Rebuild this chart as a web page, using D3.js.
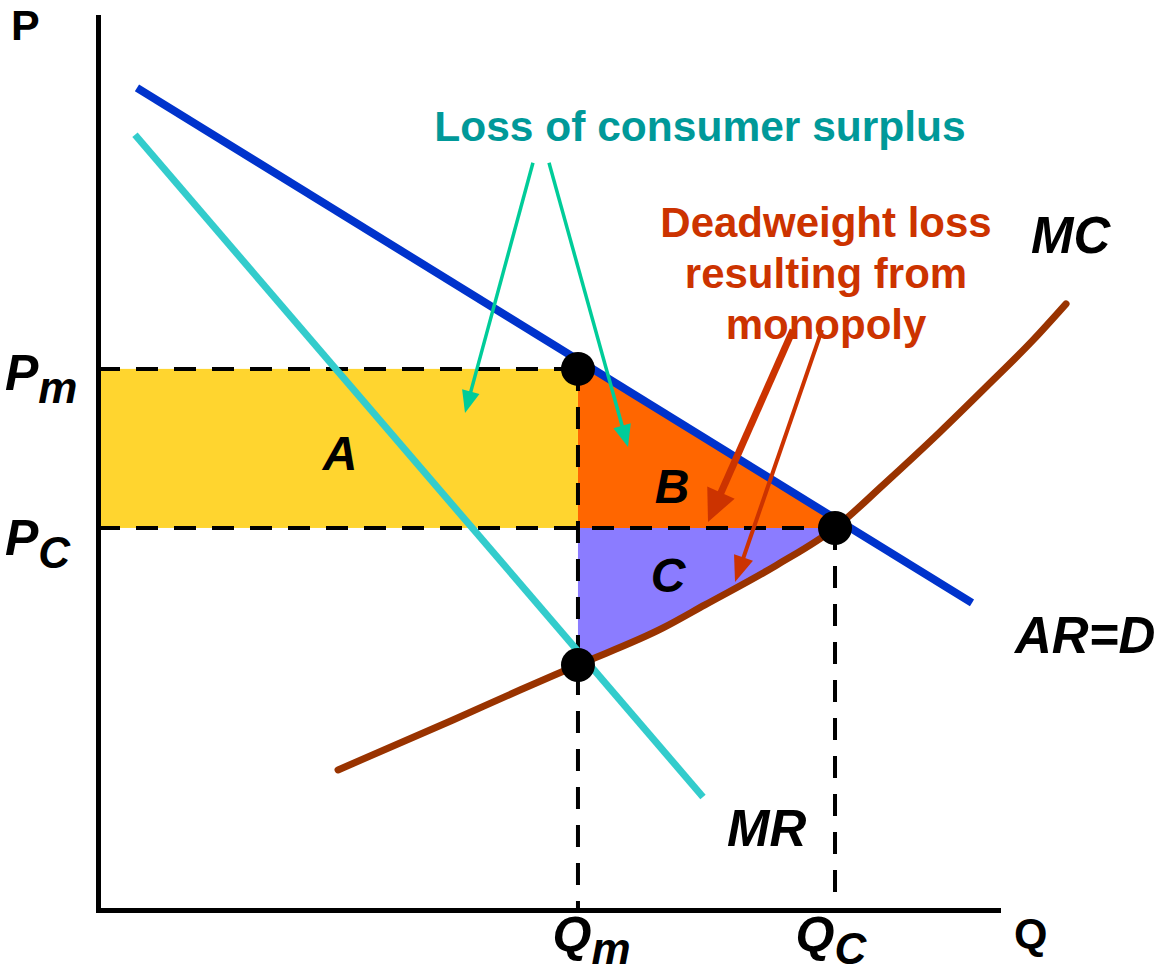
<!DOCTYPE html>
<html>
<head>
<meta charset="utf-8">
<script src="https://cdn.jsdelivr.net/npm/d3@7"></script>
<style>
body { margin: 0; background: #fff; }
svg text { font-family: "Liberation Sans", Arial, sans-serif; font-weight: bold; }
</style>
</head>
<body>
<div id="chart"></div>
<script>
// curves as (Q, P) pairs
var demand = [[0.433, 9.133], [9.711, 3.411]];
var marginalRevenue = [[0.411, 8.611], [6.722, 1.256]];
var marginalCost = [[2.667, 1.556], [3.944, 2.111], [4.689, 2.444], [5.333, 2.722], [6.278, 3.133],
    [6.744, 3.389], [7.544, 3.833], [8.189, 4.244], [8.722, 4.72], [9.356, 5.31], [9.878, 5.82],
    [10.389, 6.33], [10.756, 6.733]];

// monopoly / competitive outcome
var quantities = [5.333, 8.189];   // Qm, Qc
var prices = [6.011, 4.244];       // Pm, Pc
var mcAtQm = 2.722;

// tick labels
var priceNames = ["P", "P"], priceSubs = ["m", "C"];
var quantityNames = ["Q", "Q"], quantitySubs = ["m", "C"];

// annotation arrows, [from, to] in (Q, P)
var surplusArrows = [[[4.833, 8.30], [4.078, 5.522]], [[5.011, 8.30], [5.889, 5.144]]];
var deadweightArrows = [[[7.722, 6.444], [6.778, 4.311]], [[8.044, 6.444], [7.078, 3.644]]];

var surplusText = "Loss of consumer surplus";
var deadweightText = ["Deadweight loss", "resulting from", "monopoly"];

var width = 1166, height = 974;

var x = d3.scaleLinear().domain([0, 10]).range([98, 998]);
var y = d3.scaleLinear().domain([0, 9.92]).range([910, 17]);

var svg = d3.select("#chart").append("svg")
    .attr("width", width)
    .attr("height", height);

var line = d3.line()
    .x(function(d) { return x(d[0]); })
    .y(function(d) { return y(d[1]); });

var Qm = quantities[0], Qc = quantities[1], Pm = prices[0], Pc = prices[1];

// demand price at a given quantity / quantity at a given price
var dSlope = (demand[1][1] - demand[0][1]) / (demand[1][0] - demand[0][0]);
function demandAt(q) { return demand[0][1] + dSlope * (q - demand[0][0]); }
function demandQ(p) { return demand[0][0] + (p - demand[0][1]) / dSlope; }

// area A
svg.append("rect")
    .attr("x", x(0))
    .attr("y", y(Pm))
    .attr("width", x(Qm) - x(0))
    .attr("height", y(Pc) - y(Pm))
    .style("fill", "#FFD52F");

// area B
svg.append("path")
    .datum([[Qm, Pm], [Qm, demandAt(Qm)], [demandQ(Pc), Pc], [Qm, Pc]])
    .attr("d", function(d) { return line(d) + "Z"; })
    .style("fill", "#FF6600");

// area C
var cPts = marginalCost.filter(function(d) { return d[0] >= Qm && d[0] <= Qc; });
svg.append("path")
    .datum(cPts)
    .attr("d", d3.area()
        .x(function(d) { return x(d[0]); })
        .y0(function(d) { return y(d[1]); })
        .y1(y(Pc))
        .curve(d3.curveMonotoneX))
    .style("fill", "#8B7CFF");

// dashed guides
var guides = [
    [[0, Pm], [Qm, Pm]],
    [[0, Pc], [Qc, Pc]],
    [[Qm, Pm], [Qm, 0]],
    [[Qc, Pc], [Qc, 0]]
];
svg.selectAll(".guide")
    .data(guides)
    .enter().append("path")
    .attr("class", "guide")
    .attr("d", line)
    .style("fill", "none")
    .style("stroke", "#000")
    .style("stroke-width", 4)
    .style("stroke-dasharray", "22,16");

// axes
var xAxis = svg.append("g")
    .attr("transform", "translate(0," + y(0) + ")")
    .call(d3.axisBottom(x).tickValues(quantities).tickSize(0).tickSizeOuter(0).tickFormat(function() { return ""; }));
var yAxis = svg.append("g")
    .attr("transform", "translate(" + x(0) + ",0)")
    .call(d3.axisLeft(y).tickValues(prices).tickSize(0).tickSizeOuter(0).tickFormat(function() { return ""; }));

svg.selectAll(".domain")
    .style("stroke", "#000")
    .style("stroke-width", 5)
    .style("stroke-linecap", "square");

var xOff = [-26, -40];
xAxis.selectAll(".tick text")
    .attr("text-anchor", "start")
    .attr("fill", "#000")
    .attr("x", function(d, i) { return xOff[i]; })
    .attr("y", 42)
    .attr("dy", null)
    .each(function(d, i) {
        var t = d3.select(this);
        t.append("tspan").style("font-size", "50px").style("font-style", "italic").text(quantityNames[i]);
        t.append("tspan").attr("dy", 12).style("font-size", "44px").style("font-style", "italic").text(quantitySubs[i]);
    });

var yOff = [21, 27];
yAxis.selectAll(".tick text")
    .attr("text-anchor", "start")
    .attr("fill", "#000")
    .attr("x", -93)
    .attr("y", function(d, i) { return yOff[i]; })
    .attr("dy", null)
    .each(function(d, i) {
        var t = d3.select(this);
        t.append("tspan").style("font-size", "50px").style("font-style", "italic").text(priceNames[i]);
        t.append("tspan").attr("dy", 13).style("font-size", "44px").style("font-style", "italic").text(priceSubs[i]);
    });

// curves
svg.append("path")
    .datum(marginalRevenue)
    .attr("d", line)
    .style("fill", "none")
    .style("stroke", "#33CCCC")
    .style("stroke-width", 7);

svg.append("path")
    .datum(demand)
    .attr("d", line)
    .style("fill", "none")
    .style("stroke", "#0033CC")
    .style("stroke-width", 8);

svg.append("path")
    .datum(marginalCost)
    .attr("d", line.curve(d3.curveMonotoneX))
    .style("fill", "none")
    .style("stroke", "#993300")
    .style("stroke-width", 7)
    .style("stroke-linecap", "round");
line.curve(d3.curveLinear);

// arrows
function arrow(a, color, sw, len, half) {
    var x1 = x(a[0][0]), y1 = y(a[0][1]), x2 = x(a[1][0]), y2 = y(a[1][1]);
    var dx = x2 - x1, dy = y2 - y1, n = Math.sqrt(dx * dx + dy * dy);
    var ux = dx / n, uy = dy / n;
    var bx = x2 - ux * len, by = y2 - uy * len;
    svg.append("line")
        .attr("x1", x1).attr("y1", y1)
        .attr("x2", bx + ux * 2).attr("y2", by + uy * 2)
        .style("stroke", color)
        .style("stroke-width", sw);
    svg.append("polygon")
        .attr("points", [[x2, y2], [bx - uy * half, by + ux * half], [bx + uy * half, by - ux * half]].join(" "))
        .style("fill", color);
}
surplusArrows.forEach(function(a) { arrow(a, "#00CC99", 3.5, 22, 9); });
arrow(deadweightArrows[0], "#CC3300", 7, 32, 15);
arrow(deadweightArrows[1], "#CC3300", 4, 26, 10);

// equilibrium dots
var dots = [[Qm, Pm], [Qc, Pc], [Qm, mcAtQm]];
svg.selectAll(".dot")
    .data(dots)
    .enter().append("circle")
    .attr("class", "dot")
    .attr("cx", function(d) { return x(d[0]); })
    .attr("cy", function(d) { return y(d[1]); })
    .attr("r", 17)
    .style("fill", "#000");

// text
svg.append("text").attr("x", 11).attr("y", 40).style("font-size", "43px").text("P");
svg.append("text").attr("x", 1014).attr("y", 948).style("font-size", "43px").text("Q");

svg.append("text")
    .attr("x", 700).attr("y", 141)
    .attr("text-anchor", "middle")
    .style("font-size", "42.5px")
    .style("fill", "#009999")
    .text(surplusText);

svg.selectAll(".dwl")
    .data(deadweightText)
    .enter().append("text")
    .attr("class", "dwl")
    .attr("x", 826)
    .attr("y", function(d, i) { return 237 + i * 51; })
    .attr("text-anchor", "middle")
    .style("font-size", "42px")
    .style("fill", "#CC3300")
    .text(function(d) { return d; });

var italicLabels = [
    {t: "A", x: 340, y: 470, a: "middle", s: 48},
    {t: "B", x: 672, y: 503, a: "middle", s: 48},
    {t: "C", x: 668, y: 592, a: "middle", s: 48},
    {t: "MC", x: 1031, y: 253, a: "start", s: 51},
    {t: "AR=D", x: 1015, y: 653, a: "start", s: 51},
    {t: "MR", x: 727, y: 846, a: "start", s: 51}
];
svg.selectAll(".lbl")
    .data(italicLabels)
    .enter().append("text")
    .attr("class", "lbl")
    .attr("x", function(d) { return d.x; })
    .attr("y", function(d) { return d.y; })
    .attr("text-anchor", function(d) { return d.a; })
    .style("font-size", function(d) { return d.s + "px"; })
    .style("font-style", "italic")
    .text(function(d) { return d.t; });
</script>
</body>
</html>
